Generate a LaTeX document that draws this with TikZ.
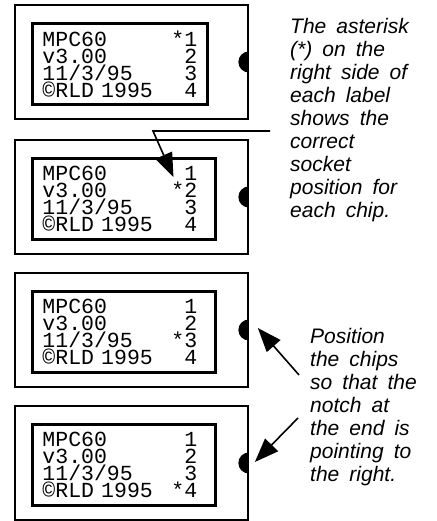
\documentclass[tikz,border=0pt]{standalone}
\usepackage{fontspec}
\newfontfamily\chipfont{Liberation Mono}
\newfontfamily\notefont{Liberation Sans}
\usetikzlibrary{arrows.meta}
\newcommand{\chipsetup}{\chipfont\fontsize{21.5}{17}\selectfont\lineskiplimit=-30pt\spaceskip 0.6em\relax}
\newcommand{\notesetup}{\notefont\itshape\fontsize{21}{23}\selectfont\spaceskip 0.48em\relax}
% one line of a chip label: 12 characters wide
\newcommand{\chiprow}[2]{\makebox[7.2em][l]{#1\hfill#2}}

\tikzset{
	chip/.style={draw, line width=1.7pt, minimum width=233pt, minimum height=114pt, inner sep=0pt},
	chiplabel/.style={draw, line width=2.6pt, anchor=north west, align=left, text width=163pt, inner xsep=10pt, inner ysep=0pt, minimum height=81pt, font=\chipsetup},
	notch/.style={fill=black},
	pointer/.style={line width=1.6pt, -{Triangle[length=24pt,width=18pt]}},
	note/.style={anchor=north west, align=left, inner sep=0pt, font=\notesetup}
}

\begin{document}
\begin{tikzpicture}[x=1pt, y=1pt]
	\useasboundingbox (0,0) rectangle (436,521);
	% the four chips
	\node (chip1) [chip] at (131.5,459) {};
	\node (chip2) [chip] at (131.5,324) {};
	\node (chip3) [chip] at (131.5,191) {};
	\node (chip4) [chip] at (131.5,58) {};
	% labels on the chips
	\node (label1) [chiplabel, text width=155pt] at ([xshift=17pt,yshift=-18pt]chip1.north west) {\chiprow{MPC60}{*1}\\\chiprow{v3.00}{2}\\\chiprow{11/3/95}{3}\\\chiprow{©RLD 1995}{4}};
	\node (label2) [chiplabel] at ([xshift=17pt,yshift=-18pt]chip2.north west) {\chiprow{MPC60}{1}\\\chiprow{v3.00}{*2}\\\chiprow{11/3/95}{3}\\\chiprow{©RLD 1995}{4}};
	\node (label3) [chiplabel] at ([xshift=17pt,yshift=-18pt]chip3.north west) {\chiprow{MPC60}{1}\\\chiprow{v3.00}{2}\\\chiprow{11/3/95}{*3}\\\chiprow{©RLD 1995}{4}};
	\node (label4) [chiplabel] at ([xshift=17pt,yshift=-18pt]chip4.north west) {\chiprow{MPC60}{1}\\\chiprow{v3.00}{2}\\\chiprow{11/3/95}{3}\\\chiprow{©RLD 1995}{*4}};
	% notches
	\fill[notch] ([yshift=10.5pt]chip1.east) arc[start angle=90, end angle=270, radius=10.5pt] -- cycle;
	\fill[notch] ([yshift=10.5pt]chip2.east) arc[start angle=90, end angle=270, radius=10.5pt] -- cycle;
	\fill[notch] ([yshift=10.5pt]chip3.east) arc[start angle=90, end angle=270, radius=10.5pt] -- cycle;
	\fill[notch] ([yshift=10.5pt]chip4.east) arc[start angle=90, end angle=270, radius=10.5pt] -- cycle;
	% notes
	\node (note1) [note] at (290,503) {The asterisk\\(*) on the\\right side of\\each label\\shows the\\correct\\socket\\position for\\each chip.};
	\node (note2) [note] at (310,193) {Position\\the chips\\so that the\\notch at\\the end is\\pointing to\\the right.};
	% pointers
	\coordinate (p1) at (270,390);
	\coordinate (p2) at (153,390);
	\draw[pointer] (p1) -- (p2) -- ([xshift=49.5pt,yshift=-20pt]label2.north);
	\coordinate (q1) at (299,146);
	\coordinate (q2) at (298,103);
	\draw[pointer] (q1) -- ([xshift=9pt,yshift=2pt]chip3.east);
	\draw[pointer] (q2) -- ([xshift=6pt,yshift=1pt]chip4.east);
\end{tikzpicture}
\end{document}
